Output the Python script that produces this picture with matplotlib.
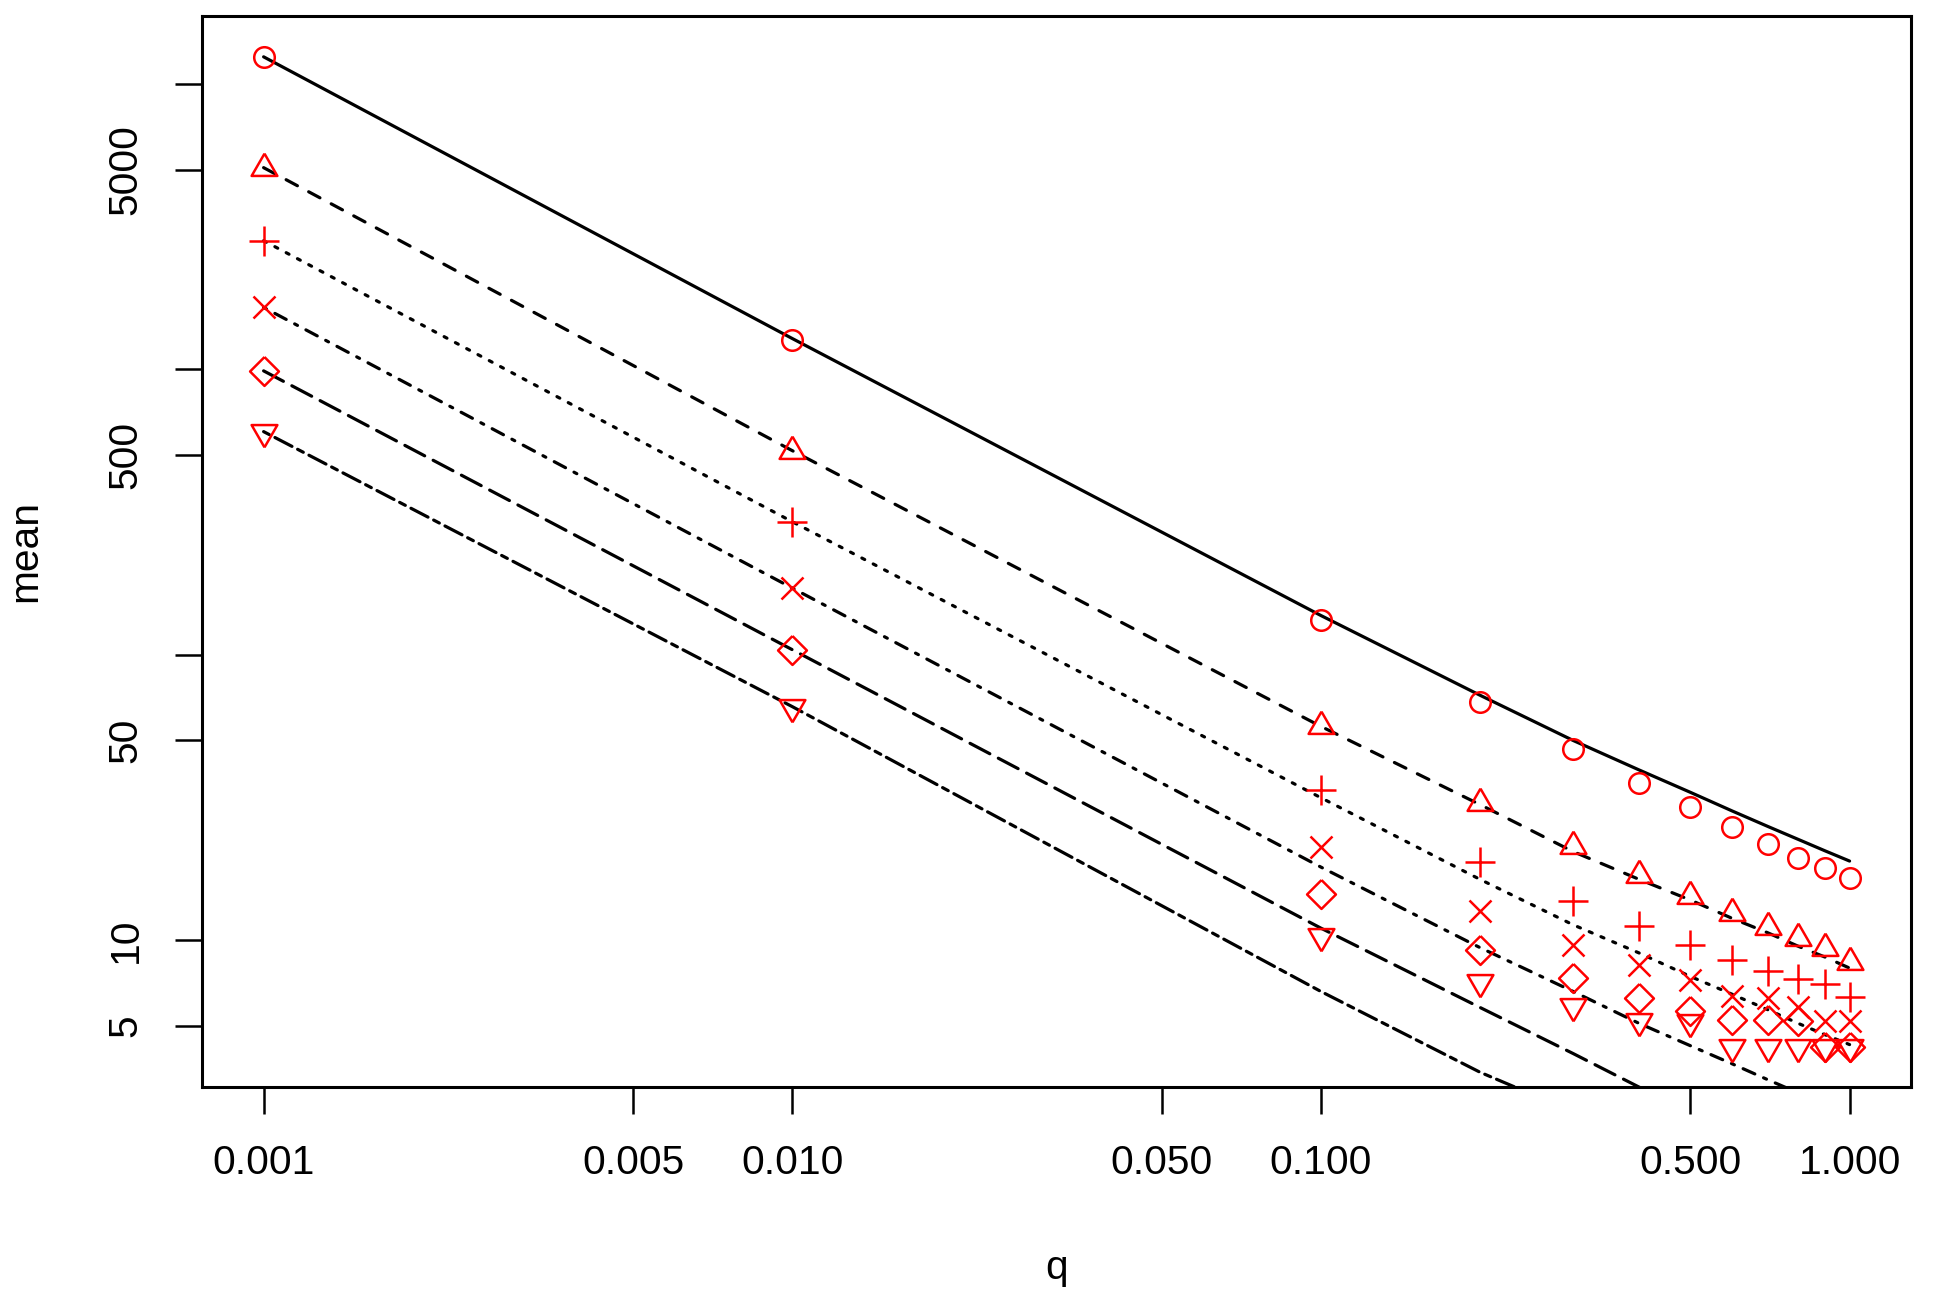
import numpy as np
import matplotlib.pyplot as plt
from matplotlib.ticker import FixedLocator, FixedFormatter, NullLocator

# q grid shared by the simulated means and the fitted curves
q = [0.001, 0.01, 0.1, 0.2, 0.3, 0.4, 0.5, 0.6, 0.7, 0.8, 0.9, 1.0]

# simulated means (red symbols)
mean_circle = [12420, 1264, 132, 68, 46.6, 35.6, 29.2, 24.9, 21.7, 19.4, 17.8, 16.5]
mean_tri_up = [5080, 518, 56.3, 30.2, 21.3, 16.9, 14.2, 12.4, 11.1, 10.2, 9.35, 8.4]
mean_plus = [2818, 292, 33.6, 18.7, 13.7, 11.2, 9.6, 8.5, 7.8, 7.3, 7.0, 6.3]
mean_cross = [1645, 171, 21.2, 12.6, 9.6, 8.2, 7.25, 6.35, 6.25, 5.8, 5.22, 5.22]
mean_diamond = [986, 104, 14.5, 9.2, 7.35, 6.24, 5.66, 5.25, 5.25, 5.22, 4.23, 4.23]
mean_tri_down = [604, 65.7, 10.35, 7.1, 5.85, 5.22, 5.16, 4.2, 4.2, 4.2, 4.2, 4.2]

# approximation curves (black lines)
curve_solid = [12420, 1280, 137, 72, 50, 39.4, 32.9, 28.3, 25.0, 22.5, 20.5, 18.9]
curve_dashed = [5080, 518, 56, 29.8, 20.4, 16.3, 13.8, 11.9, 10.6, 9.5, 8.7, 7.97]
curve_dotted = [2818, 292, 31.5, 16.3, 11.3, 9.0, 7.45, 6.45, 5.7, 5.1, 4.65, 4.3]
curve_dotdash = [1645, 171, 18.0, 9.4, 6.6, 5.1, 4.26, 3.68, 3.24, 2.91, 2.64, 2.42]
curve_longdash = [986, 104, 11.0, 5.8, 4.0, 3.05, 2.52, 2.16, 1.9, 1.7, 1.53, 1.4]
curve_twodash = [604, 65.7, 6.6, 3.44, 2.5, 1.95, 1.6, 1.37, 1.2, 1.06, 0.95, 0.86]

x_ticks = [0.001, 0.005, 0.01, 0.05, 0.1, 0.5, 1.0]
x_labels = ['0.001', '0.005', '0.010', '0.050', '0.100', '0.500', '1.000']
y_ticks = [5, 10, 50, 100, 500, 1000, 5000, 10000]
y_labels = ['5', '10', '50', '', '500', '', '5000', '']

plt.rcParams['font.family'] = ['Liberation Sans', 'DejaVu Sans']

# R-like symbols (pch 2, 5, 6) centred the way R draws them
tri_up = [(0, 1.555), (1.347, -0.778), (-1.347, -0.778), (0, 1.555)]
tri_down = [(0, -1.555), (1.347, 0.778), (-1.347, 0.778), (0, -1.555)]
diamond = [(0, 1), (1, 0), (0, -1), (-1, 0), (0, 1)]

fig = plt.figure(figsize=(9.7, 6.52), dpi=200)
ax = fig.add_axes([0.104, 0.1666, 0.881, 0.8211])
ax.set_xscale('log')
ax.set_yscale('log')

lw = 1.15
curves = [
    (curve_solid, '-'),
    (curve_dashed, (0, (4, 4))),
    (curve_dotted, (0, (1, 3))),
    (curve_dotdash, (0, (1, 3, 4, 3))),
    (curve_longdash, (0, (7, 3))),
    (curve_twodash, (0, (2, 2, 6, 2))),
]
for vals, ls in curves:
    ax.plot(q, vals, color='black', lw=lw, linestyle=ls,
            dash_capstyle='round', solid_capstyle='round')

points = [
    (mean_circle, 'o', 7.4),
    (mean_tri_up, tri_up, 10.7),
    (mean_plus, '+', 10.5),
    (mean_cross, 'x', 7.6),
    (mean_diamond, diamond, 10.4),
    (mean_tri_down, tri_down, 10.7),
]
for vals, mk, ms in points:
    ax.plot(q, vals, linestyle='none', marker=mk, markersize=ms,
            markerfacecolor='none', markeredgecolor='#FF0000', markeredgewidth=0.9)

ax.set_xlim(10 ** -3.117, 10 ** 0.116)
ax.set_ylim(3.06, 17260)

ax.xaxis.set_major_locator(FixedLocator(x_ticks))
ax.xaxis.set_major_formatter(FixedFormatter(x_labels))
ax.xaxis.set_minor_locator(NullLocator())
ax.yaxis.set_major_locator(FixedLocator(y_ticks))
ax.yaxis.set_major_formatter(FixedFormatter(y_labels))
ax.yaxis.set_minor_locator(NullLocator())

ax.tick_params(axis='both', direction='out', length=9.6, width=0.9, labelsize=14.7, pad=11)
ax.tick_params(axis='y', labelrotation=90)
for lab in ax.get_yticklabels():
    lab.set_verticalalignment('center')

for sp in ax.spines.values():
    sp.set_linewidth(1.1)

ax.set_xlabel('q', fontsize=14.7, va='center')
ax.xaxis.set_label_coords(0.5, -0.1693)
ax.set_ylabel('mean', fontsize=14.7, va='center')
ax.yaxis.set_label_coords(-0.1034, 0.5)

fig.savefig('out.png', dpi=200, facecolor='white')
